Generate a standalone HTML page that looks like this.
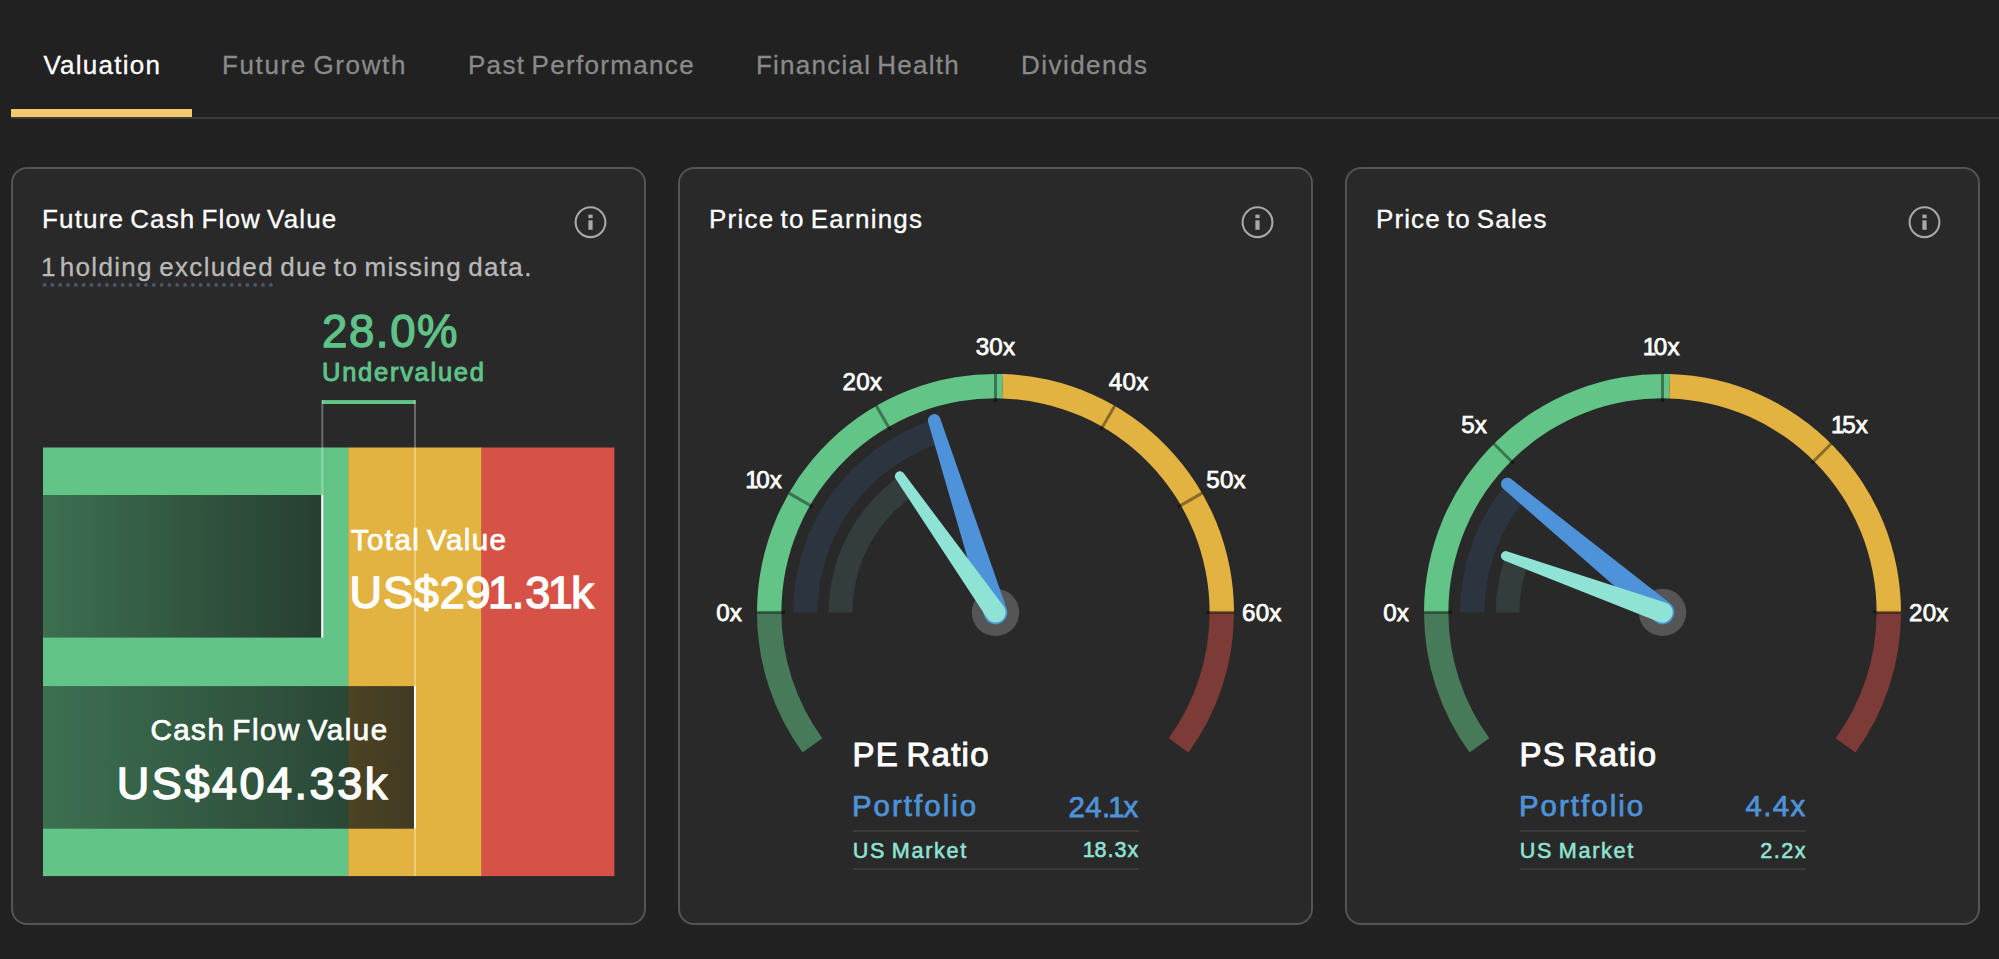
<!DOCTYPE html>
<html lang="en">
<head>
<meta charset="utf-8">
<title>Portfolio Valuation</title>
<style>
html,body{margin:0;padding:0;}
body{width:1999px;height:959px;background:#212121;overflow:hidden;position:relative;
font-family:"Liberation Sans", Arial, Helvetica, sans-serif;-webkit-font-smoothing:antialiased;}
.t{position:absolute;white-space:nowrap;line-height:1em;font-family:"Liberation Sans", Arial, Helvetica, sans-serif;word-spacing:-0.09em;}
.abs{position:absolute;}
.st{font-family:"Liberation Sans", Arial, Helvetica, sans-serif;word-spacing:-0.09em;white-space:pre;}
.card{position:absolute;top:167px;width:631px;height:754px;background:#292929;
border:2px solid #545454;border-radius:16px;}
svg{position:absolute;left:0;top:0;overflow:visible;}
.gl{font-family:"Liberation Sans", Arial, Helvetica, sans-serif;font-size:24.2px;fill:#fff;stroke:#fff;stroke-width:0.75px;letter-spacing:0.2px;}
</style>
</head>
<body>
<div class="abs" style="left:11px;top:117px;width:1988px;height:2px;background:#3a3a3a;"></div>
<div class="abs" style="left:11px;top:109px;width:180.5px;height:8px;background:#f2c96d;"></div>
<span class="t" id="tab1" style="font-size:26px;color:#ffffff;top:52.00px;left:43.47px;letter-spacing:1.239px;-webkit-text-stroke:0.3px #ffffff;">Valuation</span>
<span class="t" id="tab2" style="font-size:26px;color:#8a8a8a;top:52.00px;left:221.95px;letter-spacing:1.640px;-webkit-text-stroke:0.3px #8a8a8a;">Future Growth</span>
<span class="t" id="tab3" style="font-size:26px;color:#8a8a8a;top:52.00px;left:467.95px;letter-spacing:1.332px;-webkit-text-stroke:0.3px #8a8a8a;">Past Performance</span>
<span class="t" id="tab4" style="font-size:26px;color:#8a8a8a;top:52.00px;left:755.95px;letter-spacing:1.240px;-webkit-text-stroke:0.3px #8a8a8a;">Financial Health</span>
<span class="t" id="tab5" style="font-size:26px;color:#8a8a8a;top:52.00px;left:1020.95px;letter-spacing:1.479px;-webkit-text-stroke:0.3px #8a8a8a;">Dividends</span>
<div class="card" style="left:11px;"></div>
<div class="card" style="left:678px;"></div>
<div class="card" style="left:1345px;"></div>
<span class="t" id="ttl1" style="font-size:26px;color:#ffffff;top:206.00px;left:42.05px;letter-spacing:1.155px;-webkit-text-stroke:0.3px #ffffff;">Future Cash Flow Value</span>
<span class="t" id="ttl2" style="font-size:26px;color:#ffffff;top:206.00px;left:708.95px;letter-spacing:1.239px;-webkit-text-stroke:0.3px #ffffff;">Price to Earnings</span>
<span class="t" id="ttl3" style="font-size:26px;color:#ffffff;top:206.00px;left:1375.95px;letter-spacing:1.133px;-webkit-text-stroke:0.3px #ffffff;">Price to Sales</span>
<svg width="1999" height="959" style="pointer-events:none"><g>
<circle cx="590.5" cy="222.2" r="14.9" fill="none" stroke="#a9a9a9" stroke-width="2.1"/>
<rect x="588.4" y="214.6" width="4.2" height="3.6" fill="#a9a9a9"/>
<rect x="588.4" y="220.3" width="4.2" height="9.5" fill="#a9a9a9"/>
</g></svg>
<svg width="1999" height="959" style="pointer-events:none"><g>
<circle cx="1257.5" cy="222.2" r="14.9" fill="none" stroke="#a9a9a9" stroke-width="2.1"/>
<rect x="1255.4" y="214.6" width="4.2" height="3.6" fill="#a9a9a9"/>
<rect x="1255.4" y="220.3" width="4.2" height="9.5" fill="#a9a9a9"/>
</g></svg>
<svg width="1999" height="959" style="pointer-events:none"><g>
<circle cx="1924.5" cy="222.2" r="14.9" fill="none" stroke="#a9a9a9" stroke-width="2.1"/>
<rect x="1922.4" y="214.6" width="4.2" height="3.6" fill="#a9a9a9"/>
<rect x="1922.4" y="220.3" width="4.2" height="9.5" fill="#a9a9a9"/>
</g></svg>
<svg width="1999" height="959"><text class="st" id="sub1" x="41.00" y="275.65" dx="0.00 -3.38" style="font-size:26px;fill:#b9b9b9;letter-spacing:1.344px;stroke:#b9b9b9;stroke-width:0.3px;">1 holding excluded due to missing data.</text></svg>
<svg width="1999" height="959"><circle cx="44.60" cy="284.9" r="1.95" fill="#4a576a"/><circle cx="52.40" cy="284.9" r="1.95" fill="#4a576a"/><circle cx="60.20" cy="284.9" r="1.95" fill="#4a576a"/><circle cx="68.00" cy="284.9" r="1.95" fill="#4a576a"/><circle cx="75.80" cy="284.9" r="1.95" fill="#4a576a"/><circle cx="83.60" cy="284.9" r="1.95" fill="#4a576a"/><circle cx="91.40" cy="284.9" r="1.95" fill="#4a576a"/><circle cx="99.20" cy="284.9" r="1.95" fill="#4a576a"/><circle cx="107.00" cy="284.9" r="1.95" fill="#4a576a"/><circle cx="114.80" cy="284.9" r="1.95" fill="#4a576a"/><circle cx="122.60" cy="284.9" r="1.95" fill="#4a576a"/><circle cx="130.40" cy="284.9" r="1.95" fill="#4a576a"/><circle cx="138.20" cy="284.9" r="1.95" fill="#4a576a"/><circle cx="146.00" cy="284.9" r="1.95" fill="#4a576a"/><circle cx="153.80" cy="284.9" r="1.95" fill="#4a576a"/><circle cx="161.60" cy="284.9" r="1.95" fill="#4a576a"/><circle cx="169.40" cy="284.9" r="1.95" fill="#4a576a"/><circle cx="177.20" cy="284.9" r="1.95" fill="#4a576a"/><circle cx="185.00" cy="284.9" r="1.95" fill="#4a576a"/><circle cx="192.80" cy="284.9" r="1.95" fill="#4a576a"/><circle cx="200.60" cy="284.9" r="1.95" fill="#4a576a"/><circle cx="208.40" cy="284.9" r="1.95" fill="#4a576a"/><circle cx="216.20" cy="284.9" r="1.95" fill="#4a576a"/><circle cx="224.00" cy="284.9" r="1.95" fill="#4a576a"/><circle cx="231.80" cy="284.9" r="1.95" fill="#4a576a"/><circle cx="239.60" cy="284.9" r="1.95" fill="#4a576a"/><circle cx="247.40" cy="284.9" r="1.95" fill="#4a576a"/><circle cx="255.20" cy="284.9" r="1.95" fill="#4a576a"/><circle cx="263.00" cy="284.9" r="1.95" fill="#4a576a"/><circle cx="270.80" cy="284.9" r="1.95" fill="#4a576a"/></svg>
<span class="t" id="pct" style="font-size:45.5px;color:#5fc388;top:309.00px;left:321.94px;letter-spacing:1.657px;-webkit-text-stroke:1.3px #5fc388;">28.0%</span>
<span class="t" id="und" style="font-size:25.5px;color:#5fc388;top:360.00px;left:322.09px;letter-spacing:1.722px;-webkit-text-stroke:0.95px #5fc388;">Undervalued</span>
<svg width="1999" height="959">
<defs><linearGradient id="dk" x1="0" y1="0" x2="1" y2="0"><stop offset="0" stop-color="rgb(23,27,26)" stop-opacity="0.50"/><stop offset="1" stop-color="rgb(23,27,26)" stop-opacity="0.79"/></linearGradient></defs>
<rect x="43" y="447.5" width="305.80" height="428.60" fill="#62c487"/>
<rect x="348.3" y="447.5" width="133.50" height="428.60" fill="#e3b341"/>
<rect x="481.3" y="447.5" width="133.10" height="428.60" fill="#d65246"/>
<rect x="322" y="400.1" width="93.5" height="3.9" fill="#62c487"/>
<rect x="321.3" y="400.1" width="2" height="94.90" fill="rgba(255,255,255,0.30)"/>
<rect x="414.0" y="400.1" width="2" height="286.00" fill="rgba(255,255,255,0.30)"/>
<rect x="414.0" y="828.70" width="2" height="47.40" fill="rgba(255,255,255,0.30)"/>
<rect x="43" y="495.0" width="278.30" height="142.6" fill="url(#dk)"/>
<rect x="321.3" y="495.0" width="2" height="142.6" fill="#fff"/>
<rect x="43" y="686.1" width="371.00" height="142.6" fill="url(#dk)"/>
<rect x="414.0" y="686.1" width="2" height="142.6" fill="#fff"/>
</svg>
<span class="t" id="tv" style="font-size:29.5px;color:#ffffff;top:525.00px;left:350.86px;letter-spacing:1.398px;-webkit-text-stroke:0.75px #ffffff;">Total Value</span>
<svg width="1999" height="959"><text class="st" id="tvv" x="349.50" y="607.77" dx="0.00 0.00 0.00 0.00 0.00 -3.38 -2.25 0.00 -3.38 -2.25" style="font-size:45px;fill:#ffffff;letter-spacing:0.871px;stroke:#ffffff;stroke-width:1.45px;">US$291.31k</text></svg>
<span class="t" id="cfv" style="font-size:29.5px;color:#ffffff;top:715.00px;left:150.39px;letter-spacing:1.515px;-webkit-text-stroke:0.75px #ffffff;">Cash Flow Value</span>
<span class="t" id="cfvv" style="font-size:45px;color:#ffffff;top:761.00px;left:116.87px;letter-spacing:2.517px;-webkit-text-stroke:1.45px #ffffff;">US$404.33k</span>
<svg width="1999" height="959">
<path d="M802.55 752.59A238.5 238.5 0 0 1 757.00 612.40L781.40 612.40A214.1 214.1 0 0 0 822.29 738.24Z" fill="#467a58"/>
<path d="M757.00 612.40A238.5 238.5 0 0 1 1002.99 374.02L1002.23 398.41A214.1 214.1 0 0 0 781.40 612.40Z" fill="#62c487"/>
<path d="M1002.99 374.02A238.5 238.5 0 0 1 1234.00 612.40L1209.60 612.40A214.1 214.1 0 0 0 1002.23 398.41Z" fill="#e3b341"/>
<path d="M1234.00 612.40A238.5 238.5 0 0 1 1188.45 752.59L1168.71 738.24A214.1 214.1 0 0 0 1209.60 612.40Z" fill="#7d3b37"/>
<path d="M793.10 612.40A202.4 202.4 0 0 1 933.96 419.58L941.38 442.83A178 178 0 0 0 817.50 612.40Z" fill="#2c343f"/>
<path d="M828.80 612.40A166.7 166.7 0 0 1 899.65 476.01L913.27 495.40A143 143 0 0 0 852.50 612.40Z" fill="#333e3c"/>
<line x1="757.00" y1="612.40" x2="785.00" y2="612.40" stroke="#000" stroke-opacity="0.4" stroke-width="3"/>
<line x1="788.95" y1="493.15" x2="813.20" y2="507.15" stroke="#000" stroke-opacity="0.4" stroke-width="3"/>
<line x1="876.25" y1="405.85" x2="890.25" y2="430.10" stroke="#000" stroke-opacity="0.4" stroke-width="3"/>
<line x1="995.50" y1="373.90" x2="995.50" y2="401.90" stroke="#000" stroke-opacity="0.4" stroke-width="3"/>
<line x1="1114.75" y1="405.85" x2="1100.75" y2="430.10" stroke="#000" stroke-opacity="0.4" stroke-width="3"/>
<line x1="1202.05" y1="493.15" x2="1177.80" y2="507.15" stroke="#000" stroke-opacity="0.4" stroke-width="3"/>
<line x1="1234.00" y1="612.40" x2="1206.00" y2="612.40" stroke="#000" stroke-opacity="0.4" stroke-width="3"/>
<circle cx="995.5" cy="612.4" r="23.7" fill="#555555"/>
<path d="M0 -11.8L201.5 -6.3A6.3 6.3 0 0 1 201.5 6.3L0 11.8A11.8 11.8 0 0 1 0 -11.8Z" fill="#4e92d9" transform="translate(995.5 612.4) rotate(-107.70)"/>
<path d="M0 -10.2L166.5 -4.9A4.9 4.9 0 0 1 166.5 4.9L0 10.2A10.2 10.2 0 0 1 0 -10.2Z" fill="#8fe3d4" transform="translate(995.5 612.4) rotate(-125.10)"/>
<text x="729.20" y="621.20" text-anchor="middle" class="gl">0x</text>
<text x="764.88" y="487.85" text-anchor="middle" dx="-1.2 -2.6" class="gl">10x</text>
<text x="862.35" y="390.38" text-anchor="middle" class="gl">20x</text>
<text x="995.50" y="355.40" text-anchor="middle" class="gl">30x</text>
<text x="1128.65" y="390.38" text-anchor="middle" class="gl">40x</text>
<text x="1226.12" y="487.85" text-anchor="middle" class="gl">50x</text>
<text x="1261.80" y="621.20" text-anchor="middle" class="gl">60x</text>
<path d="M1469.55 752.59A238.5 238.5 0 0 1 1424.00 612.40L1448.40 612.40A214.1 214.1 0 0 0 1489.29 738.24Z" fill="#467a58"/>
<path d="M1424.00 612.40A238.5 238.5 0 0 1 1669.99 374.02L1669.23 398.41A214.1 214.1 0 0 0 1448.40 612.40Z" fill="#62c487"/>
<path d="M1669.99 374.02A238.5 238.5 0 0 1 1901.00 612.40L1876.60 612.40A214.1 214.1 0 0 0 1669.23 398.41Z" fill="#e3b341"/>
<path d="M1901.00 612.40A238.5 238.5 0 0 1 1855.45 752.59L1835.71 738.24A214.1 214.1 0 0 0 1876.60 612.40Z" fill="#7d3b37"/>
<path d="M1460.10 612.40A202.4 202.4 0 0 1 1506.55 483.39L1525.35 498.94A178 178 0 0 0 1484.50 612.40Z" fill="#2c343f"/>
<path d="M1495.80 612.40A166.7 166.7 0 0 1 1505.66 555.93L1527.95 563.96A143 143 0 0 0 1519.50 612.40Z" fill="#333e3c"/>
<line x1="1424.00" y1="612.40" x2="1452.00" y2="612.40" stroke="#000" stroke-opacity="0.4" stroke-width="3"/>
<line x1="1493.86" y1="443.76" x2="1513.65" y2="463.55" stroke="#000" stroke-opacity="0.4" stroke-width="3"/>
<line x1="1662.50" y1="373.90" x2="1662.50" y2="401.90" stroke="#000" stroke-opacity="0.4" stroke-width="3"/>
<line x1="1831.14" y1="443.76" x2="1811.35" y2="463.55" stroke="#000" stroke-opacity="0.4" stroke-width="3"/>
<line x1="1901.00" y1="612.40" x2="1873.00" y2="612.40" stroke="#000" stroke-opacity="0.4" stroke-width="3"/>
<circle cx="1662.5" cy="612.4" r="23.7" fill="#555555"/>
<path d="M0 -11.8L201.5 -6.3A6.3 6.3 0 0 1 201.5 6.3L0 11.8A11.8 11.8 0 0 1 0 -11.8Z" fill="#4e92d9" transform="translate(1662.5 612.4) rotate(-140.40)"/>
<path d="M0 -10.2L166.5 -4.9A4.9 4.9 0 0 1 166.5 4.9L0 10.2A10.2 10.2 0 0 1 0 -10.2Z" fill="#8fe3d4" transform="translate(1662.5 612.4) rotate(-160.20)"/>
<text x="1396.20" y="621.20" text-anchor="middle" class="gl">0x</text>
<text x="1474.20" y="432.70" text-anchor="middle" class="gl">5x</text>
<text x="1662.50" y="355.40" text-anchor="middle" dx="-1.2 -2.6" class="gl">10x</text>
<text x="1850.80" y="432.70" text-anchor="middle" dx="-1.2 -2.6" class="gl">15x</text>
<text x="1928.80" y="621.20" text-anchor="middle" class="gl">20x</text>
</svg>
<span class="t" id="rta" style="font-size:33px;color:#ffffff;top:738.00px;left:852.39px;letter-spacing:1.271px;-webkit-text-stroke:1.0px #ffffff;">PE Ratio</span>
<span class="t" id="pfa" style="font-size:29.4px;color:#4e92d9;top:791.00px;left:851.96px;letter-spacing:2.049px;-webkit-text-stroke:0.75px #4e92d9;">Portfolio</span>
<svg width="1999" height="959"><text class="st" id="pva" x="1068.56" y="816.62" dx="0.00 0.00 0.00 -2.20 -1.47" style="font-size:29.4px;fill:#4e92d9;letter-spacing:0.354px;stroke:#4e92d9;stroke-width:0.75px;">24.1x</text></svg>
<div class="abs" style="left:853px;top:830px;width:285.5px;height:2px;background:#3a3a3a;"></div>
<span class="t" id="uma" style="font-size:21.6px;color:#8fe3d4;top:840.00px;left:852.76px;letter-spacing:1.686px;-webkit-text-stroke:0.55px #8fe3d4;">US Market</span>
<svg width="1999" height="959"><text class="st" id="mva" x="1084.38" y="857.43" dx="-1.62 -1.08" style="font-size:21.6px;fill:#8fe3d4;letter-spacing:0.926px;stroke:#8fe3d4;stroke-width:0.55px;">18.3x</text></svg>
<div class="abs" style="left:853px;top:867.6px;width:285.5px;height:2px;background:#3a3a3a;"></div>
<span class="t" id="rtb" style="font-size:33px;color:#ffffff;top:738.00px;left:1519.39px;letter-spacing:1.360px;-webkit-text-stroke:1.0px #ffffff;">PS Ratio</span>
<span class="t" id="pfb" style="font-size:29.4px;color:#4e92d9;top:791.00px;left:1518.96px;letter-spacing:2.049px;-webkit-text-stroke:0.75px #4e92d9;">Portfolio</span>
<span class="t" id="pvb" style="font-size:29.4px;color:#4e92d9;top:791.00px;left:1745.56px;letter-spacing:1.405px;-webkit-text-stroke:0.75px #4e92d9;">4.4x</span>
<div class="abs" style="left:1520px;top:830px;width:285.5px;height:2px;background:#3a3a3a;"></div>
<span class="t" id="umb" style="font-size:21.6px;color:#8fe3d4;top:840.00px;left:1519.76px;letter-spacing:1.686px;-webkit-text-stroke:0.55px #8fe3d4;">US Market</span>
<span class="t" id="mvb" style="font-size:21.6px;color:#8fe3d4;top:840.00px;left:1760.15px;letter-spacing:1.506px;-webkit-text-stroke:0.55px #8fe3d4;">2.2x</span>
<div class="abs" style="left:1520px;top:867.6px;width:285.5px;height:2px;background:#3a3a3a;"></div>
</body>
</html>
